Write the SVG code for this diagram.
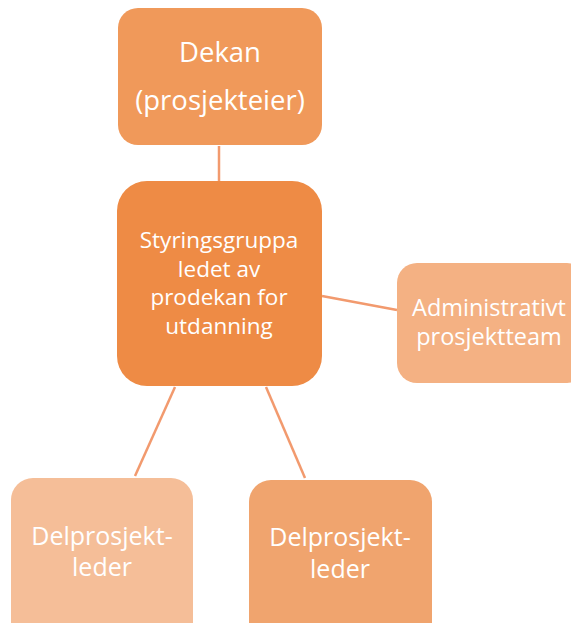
<svg xmlns="http://www.w3.org/2000/svg" width="571" height="623" viewBox="0 0 571 623">
  <style>
    .lbl { font-family: "Open Sans", "Noto Sans", sans-serif; fill: #ffffff; text-anchor: middle; }
    .top { font-size: 27.5px; }
    .ctr { font-size: 22.5px; }
    .side { font-size: 23.5px; }
    .leaf { font-size: 25px; }
    .conn { stroke: #F29A6E; stroke-width: 2.5; fill: none; }
  </style>
  <rect width="571" height="623" fill="#ffffff"/>

  <g id="connectors">
    <line class="conn" x1="219" y1="146" x2="219" y2="182"/>
    <line class="conn" x1="322" y1="296" x2="397" y2="310"/>
    <line class="conn" x1="175" y1="387" x2="135" y2="476"/>
    <line class="conn" x1="266" y1="387" x2="305" y2="478"/>
  </g>

  <g id="dekan">
    <rect x="118" y="8" width="204" height="137" rx="20" fill="#F0995A"/>
    <text class="lbl top" x="220" y="62">Dekan</text>
    <text class="lbl top" x="220" y="110">(prosjekteier)</text>
  </g>

  <g id="styringsgruppa">
    <rect x="117" y="181" width="205" height="205" rx="30" fill="#EE8B45"/>
    <text class="lbl ctr" x="219" y="248">Styringsgruppa</text>
    <text class="lbl ctr" x="219" y="277">ledet av</text>
    <text class="lbl ctr" x="219" y="305">prodekan for</text>
    <text class="lbl ctr" x="219" y="334">utdanning</text>
  </g>

  <g id="admin">
    <rect x="397" y="263" width="190" height="120" rx="20" fill="#F4B183"/>
    <text class="lbl side" x="489" y="316">Administrativt</text>
    <text class="lbl side" x="489" y="345">prosjektteam</text>
  </g>

  <g id="delprosjekt1">
    <rect x="11" y="478" width="182" height="170" rx="22" fill="#F5BE98"/>
    <text class="lbl leaf" x="102" y="545">Delprosjekt-</text>
    <text class="lbl leaf" x="102" y="576">leder</text>
  </g>

  <g id="delprosjekt2">
    <rect x="249" y="480" width="183" height="170" rx="22" fill="#F0A46E"/>
    <text class="lbl leaf" x="340" y="546">Delprosjekt-</text>
    <text class="lbl leaf" x="340" y="578">leder</text>
  </g>
</svg>
